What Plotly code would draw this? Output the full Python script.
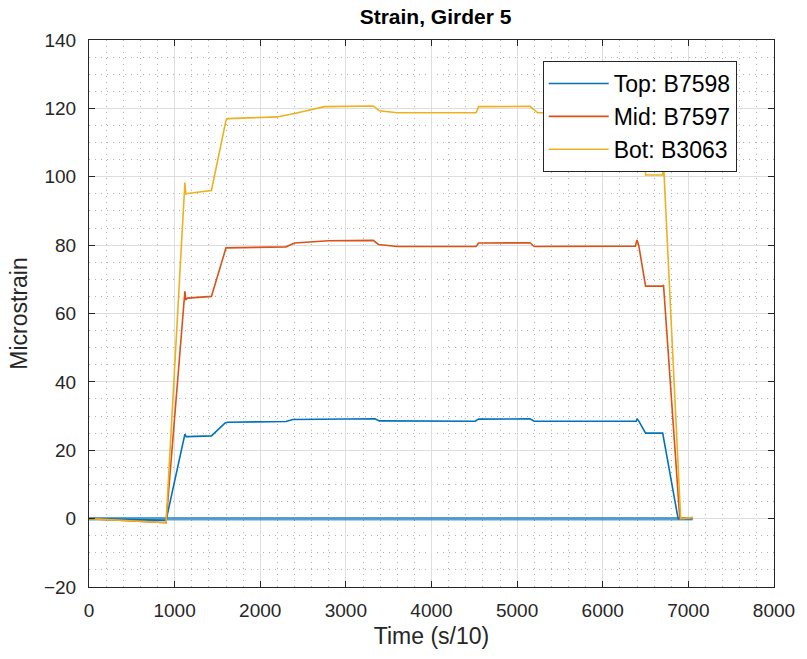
import plotly.graph_objects as go

# ---- data ----
t_top = [0, 450, 900, 1120, 1135, 1150, 1430, 1590, 1620, 2300, 2380, 3340, 3390,
         4510, 4550, 5150, 5200, 6390, 6400, 6420, 6500, 6700, 6880, 7050]
top = [0, -0.3, -0.5, 24.7, 24.0, 24.0, 24.2, 28.0, 28.2, 28.4, 29.0, 29.2, 28.6,
       28.5, 29.1, 29.2, 28.5, 28.5, 29.2, 28.6, 25.0, 25.0, 0, 0]

t_mid = [0, 450, 900, 1120, 1130, 1150, 1430, 1600, 2300, 2400, 2800, 3320, 3380,
         3600, 4520, 4550, 5150, 5200, 6380, 6400, 6420, 6500, 6700, 6710, 6900, 7050]
mid = [0, -0.5, -1.2, 66.5, 64.0, 64.5, 65.0, 79.2, 79.5, 80.6, 81.3, 81.4, 80.2,
       79.6, 79.6, 80.6, 80.7, 79.6, 79.7, 81.5, 80.0, 68.0, 68.0, 68.3, 0, 0.3]

t_bot = [0, 450, 900, 1120, 1130, 1150, 1430, 1600, 1620, 2200, 2400, 2750, 3320,
         3390, 3600, 4520, 4550, 5150, 5240, 6400, 6480, 6500, 6700, 6710, 6910, 7050]
bot = [0, -0.5, -1.2, 98.3, 95.0, 95.1, 96.0, 116.5, 117.0, 117.5, 118.5, 120.5, 120.7,
       119.3, 118.7, 118.7, 120.5, 120.6, 118.7, 118.8, 118.5, 100.5, 100.5, 104.0, 0, 0.3]

t_base = [0, 7050]
base = [0, 0]

names = ["Top: B7598", "Mid: B7597", "Bot: B3063"]
colors = ["#0072BD", "#D95319", "#EDB120"]

FONT = "Liberation Sans, Arial, sans-serif"

fig = go.Figure()
fig.add_trace(go.Scatter(x=t_base, y=base, mode="lines", showlegend=False,
                         line=dict(color="rgba(0,114,189,0.65)", width=3.5)))
for tx, ty, nm, c in [(t_top, top, names[0], colors[0]),
                      (t_mid, mid, names[1], colors[1]),
                      (t_bot, bot, names[2], colors[2])]:
    fig.add_trace(go.Scatter(x=tx, y=ty, mode="lines", name=nm, legendgroup=nm,
                             line=dict(color=c, width=1.6)))

axis_common = dict(
    showline=True, linecolor="#262626", linewidth=1, mirror="ticks",
    ticks="inside", ticklen=6, tickcolor="#262626", tickwidth=1,
    showgrid=True, gridcolor="#dedede", gridwidth=1, zeroline=False,
    tickfont=dict(family=FONT, size=19, color="#262626"),
)

fig.update_layout(
    width=807, height=659,
    margin=dict(l=89, r=25, t=40, b=72),
    paper_bgcolor="white", plot_bgcolor="white",
    title=dict(text="<b>Strain, Girder 5</b>", x=(89 + 782) / 2 / 807, xanchor="center",
               y=1 - 17 / 659, yanchor="middle",
               font=dict(family=FONT, size=21, color="#000000")),
    xaxis=dict(range=[0, 8000], dtick=1000, ticklabelstandoff=6,
               title=dict(text="Time (s/10)", standoff=8,
                          font=dict(family=FONT, size=23, color="#262626")),
               minor=dict(dtick=200, showgrid=True, griddash="1px,5px", gridcolor="#b0b0b0", gridwidth=1),
               **axis_common),
    yaxis=dict(range=[-20, 140], dtick=20, ticklabelstandoff=8,
               title=dict(text="Microstrain", standoff=9,
                          font=dict(family=FONT, size=23, color="#262626")),
               minor=dict(dtick=5, showgrid=True, griddash="1px,5px", gridcolor="#b0b0b0", gridwidth=1),
               **axis_common),
    legend=dict(x=(548 - 89) / 693, y=(587 - 61) / 547, xanchor="left", yanchor="top",
                bgcolor="white", bordercolor="#262626", borderwidth=1,
                tracegroupgap=0, itemwidth=60,
                font=dict(family=FONT, size=23, color="#000000")),
)

fig.write_html("out.html")
